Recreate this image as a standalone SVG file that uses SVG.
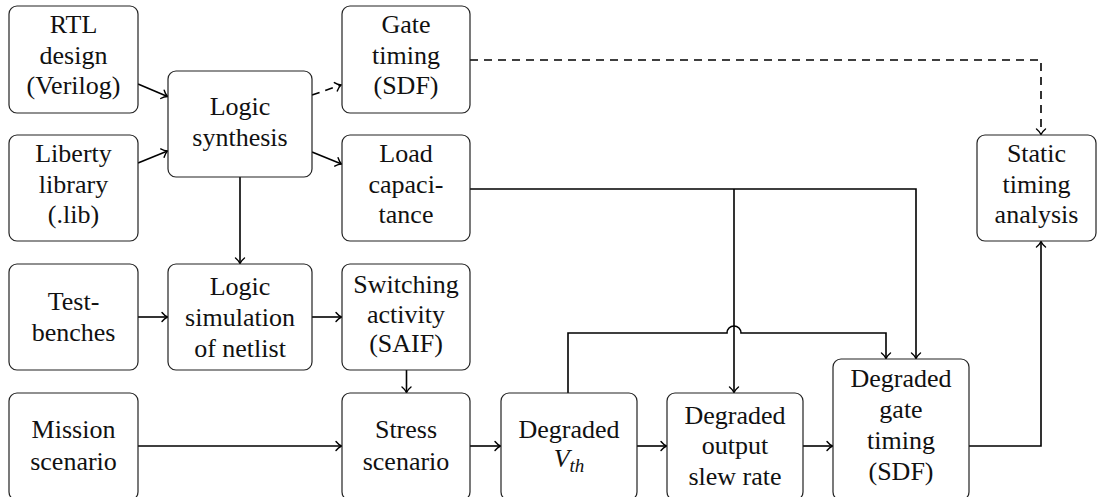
<svg xmlns="http://www.w3.org/2000/svg" width="1098" height="497" viewBox="0 0 1098 497">
<style>
  .box { fill: #fff; stroke: #222; stroke-width: 1.2; }
  .t { font-family: 'Liberation Serif', 'Times New Roman', serif; font-size: 26px; fill: #111; text-anchor: middle; }
  .c { fill: none; stroke: #000; stroke-width: 1.6; }
  .d { stroke-dasharray: 8 6; }
</style>
<defs>
  <marker id="arr" viewBox="-8 -6 10 12" refX="0" refY="0" markerWidth="10" markerHeight="12" markerUnits="userSpaceOnUse" orient="auto">
    <path d="M-5.5,-4.5 C-3.5,-2 -1.5,-0.7 0,0 C-1.5,0.7 -3.5,2 -5.5,4.5" fill="none" stroke="#000" stroke-width="1.4" stroke-linecap="round"/>
  </marker>
</defs>
<g id="connectors">
  <path class="c" d="M138,84 L167.5,96.5" marker-end="url(#arr)"/>
  <path class="c" d="M138,163 L167.5,151" marker-end="url(#arr)"/>
  <path class="c d" d="M312,95 L341,85" marker-end="url(#arr)"/>
  <path class="c" d="M312,152 L341.5,164" marker-end="url(#arr)"/>
  <path class="c" d="M240,177 V263.5" marker-end="url(#arr)"/>
  <path class="c d" d="M470,60 H1041 V134.5" marker-end="url(#arr)"/>
  <path class="c" d="M470,189 H916 V358.5" marker-end="url(#arr)"/>
  <path class="c" d="M734,189 V392.5" marker-end="url(#arr)"/>
  <path class="c" d="M568,393 V333 H727 A7,7 0 0 1 741,333 H886 V358.5" marker-end="url(#arr)"/>
  <path class="c" d="M969,446 H1041 V241.5" marker-end="url(#arr)"/>
  <path class="c" d="M138,317 H167.5" marker-end="url(#arr)"/>
  <path class="c" d="M312,317 H341.5" marker-end="url(#arr)"/>
  <path class="c" d="M406.5,370 V392.5" marker-end="url(#arr)"/>
  <path class="c" d="M138,446 H341.5" marker-end="url(#arr)"/>
  <path class="c" d="M470,446 H500.5" marker-end="url(#arr)"/>
  <path class="c" d="M637,446 H666.5" marker-end="url(#arr)"/>
  <path class="c" d="M803,446 H832.5" marker-end="url(#arr)"/>
</g>
<g id="rtl">
  <rect class="box" x="9" y="6" width="129" height="107" rx="8"/>
  <text class="t" x="73.5" y="33">RTL</text>
  <text class="t" x="73.5" y="63.5">design</text>
  <text class="t" x="73.5" y="94">(Verilog)</text>
</g>
<g id="liberty">
  <rect class="box" x="9" y="135" width="129" height="106" rx="8"/>
  <text class="t" x="73.5" y="162">Liberty</text>
  <text class="t" x="73.5" y="192.5">library</text>
  <text class="t" x="73.5" y="223">(.lib)</text>
</g>
<g id="synthesis">
  <rect class="box" x="168" y="71" width="144" height="106" rx="8"/>
  <text class="t" x="240" y="115">Logic</text>
  <text class="t" x="240" y="146">synthesis</text>
</g>
<g id="gate-timing">
  <rect class="box" x="342" y="6" width="128" height="107" rx="8"/>
  <text class="t" x="406" y="33">Gate</text>
  <text class="t" x="406" y="63.5">timing</text>
  <text class="t" x="406" y="94">(SDF)</text>
</g>
<g id="load-cap">
  <rect class="box" x="342" y="135" width="128" height="106" rx="8"/>
  <text class="t" x="406" y="162">Load</text>
  <text class="t" x="406" y="192.5">capaci-</text>
  <text class="t" x="406" y="223">tance</text>
</g>
<g id="sta">
  <rect class="box" x="977" y="135" width="119" height="106" rx="8"/>
  <text class="t" x="1036.5" y="162">Static</text>
  <text class="t" x="1036.5" y="192.5">timing</text>
  <text class="t" x="1036.5" y="223">analysis</text>
</g>
<g id="testbenches">
  <rect class="box" x="9" y="264" width="129" height="106" rx="8"/>
  <text class="t" x="73.5" y="310">Test-</text>
  <text class="t" x="73.5" y="341">benches</text>
</g>
<g id="logic-sim">
  <rect class="box" x="168" y="264" width="144" height="106" rx="8"/>
  <text class="t" x="240" y="295">Logic</text>
  <text class="t" x="240" y="326">simulation</text>
  <text class="t" x="240" y="357">of netlist</text>
</g>
<g id="switching">
  <rect class="box" x="342" y="264" width="128" height="106" rx="8"/>
  <text class="t" x="406" y="293">Switching</text>
  <text class="t" x="406" y="322.5">activity</text>
  <text class="t" x="406" y="352">(SAIF)</text>
</g>
<g id="mission">
  <rect class="box" x="9" y="393" width="129" height="107" rx="8"/>
  <text class="t" x="73.5" y="438">Mission</text>
  <text class="t" x="73.5" y="469.5">scenario</text>
</g>
<g id="stress">
  <rect class="box" x="342" y="393" width="128" height="107" rx="8"/>
  <text class="t" x="406" y="438">Stress</text>
  <text class="t" x="406" y="469.5">scenario</text>
</g>
<g id="vth">
  <rect class="box" x="501" y="393" width="136" height="107" rx="8"/>
  <text class="t" x="569" y="437.5">Degraded</text>
  <text class="t" x="569" y="467"><tspan font-style="italic">V</tspan><tspan font-style="italic" font-size="19" dy="5">th</tspan></text>
</g>
<g id="slew">
  <rect class="box" x="667" y="393" width="136" height="107" rx="8"/>
  <text class="t" x="735" y="423.5">Degraded</text>
  <text class="t" x="735" y="454">output</text>
  <text class="t" x="735" y="485">slew rate</text>
</g>
<g id="degraded-gate-timing">
  <rect class="box" x="833" y="359" width="136" height="141" rx="8"/>
  <text class="t" x="901" y="387">Degraded</text>
  <text class="t" x="901" y="418">gate</text>
  <text class="t" x="901" y="449">timing</text>
  <text class="t" x="901" y="479.5">(SDF)</text>
</g>
</svg>
